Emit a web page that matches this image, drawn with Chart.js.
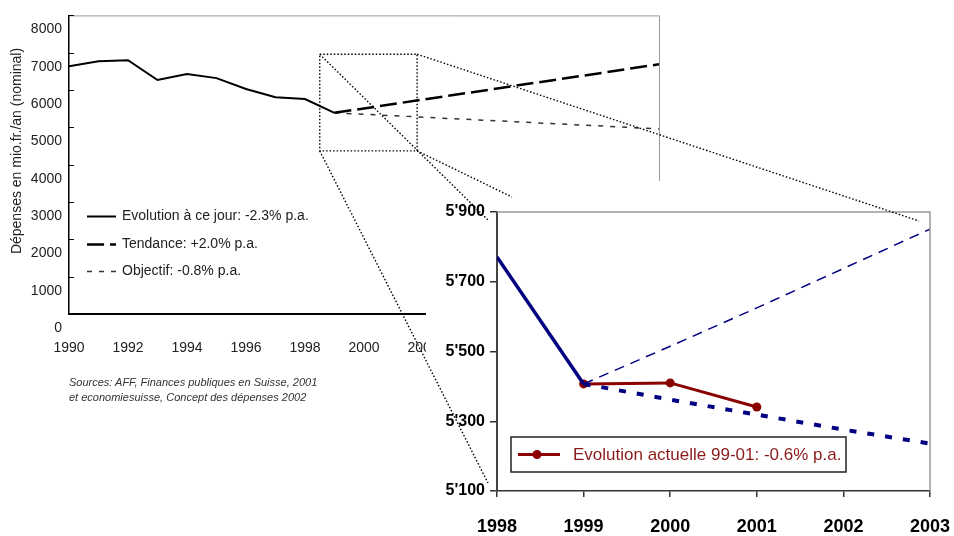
<!DOCTYPE html>
<html>
<head>
<meta charset="utf-8">
<script src="https://cdn.jsdelivr.net/npm/chart.js@4.4.1/dist/chart.umd.min.js"></script>
<style>
  html, body { margin: 0; padding: 0; background: #fff; }
  #wrap { position: relative; width: 954px; height: 536px; overflow: hidden; font-family: Arial, 'Liberation Sans', sans-serif; }
  #wrap canvas { position: absolute; left: 0; top: 0; }
  .src { position: absolute; left: 69px; top: 375px; font-size: 11px; font-style: italic; color: #333; line-height: 15px; }
</style>
</head>
<body>
<div id="wrap">
  <canvas id="mainChart" width="954" height="536"></canvas>
  <div class="src">Sources: AFF, Finances publiques en Suisse, 2001<br>et economiesuisse, Concept des dépenses 2002</div>
  <canvas id="zoomChart" width="954" height="536"></canvas>
</div>
<script>
// main chart data (mio. fr. per year)
const years = [1990, 1991, 1992, 1993, 1994, 1995, 1996, 1997, 1998, 1999];
const evolution = [6640, 6770, 6800, 6270, 6430, 6320, 6030, 5810, 5760, 5390];
const trendYears = [1999, 2010];
const trendValues = [5390, 6690];
const targetYears = [1999, 2010];
const targetValues = [5390, 4960];

// area of the main chart that is magnified
const zoomBoxYears = [1998.5, 2001.8];
const zoomBoxValues = [4370, 6960];

// inset chart data
const zoomYears = [1998, 1999, 2000, 2001, 2002, 2003];
const zoomActual = [5771, 5407];                     // 1998-1999
const zoomTrend = [5407, 5515, 5625, 5738, 5851];    // 1999-2003
const zoomTarget = [5407, 5362, 5319, 5276, 5236];   // 1999-2003
const zoomCurrent = [5407, 5410, 5341];              // 1999-2001

const mainLabels = ['Evolution à ce jour: -2.3% p.a.', 'Tendance: +2.0% p.a.', 'Objectif: -0.8% p.a.'];
const currentLabel = 'Evolution actuelle 99-01: -0.6% p.a.';

const FONT = "Arial, 'Liberation Sans', sans-serif";
Chart.defaults.font.family = FONT;

function pairs(xs, ys) {
    return ys.map((y, i) => ({ x: xs[i], y: y }));
}

// draws frame, inner ticks, axis title and the legend of the main chart
const mainDecor = {
    id: 'mainDecor',
    afterDraw(chart) {
        const ctx = chart.ctx;
        const ca = chart.chartArea;
        ctx.save();

        ctx.strokeStyle = '#999';
        ctx.lineWidth = 1;
        ctx.beginPath();
        ctx.moveTo(ca.left, ca.top + 0.5);
        ctx.lineTo(ca.right + 0.5, ca.top + 0.5);
        ctx.lineTo(ca.right + 0.5, ca.bottom);
        ctx.stroke();

        const ys = chart.scales.y;
        ctx.strokeStyle = '#000';
        ys.ticks.forEach(t => {
            const p = Math.round(ys.getPixelForValue(t.value)) + 0.5;
            ctx.beginPath();
            ctx.moveTo(ca.left, p);
            ctx.lineTo(ca.left + 5, p);
            ctx.stroke();
        });

        // y axis title
        ctx.save();
        ctx.translate(17, 151);
        ctx.rotate(-Math.PI / 2);
        ctx.fillStyle = '#222';
        ctx.font = '14px ' + FONT;
        ctx.textAlign = 'center';
        ctx.textBaseline = 'middle';
        ctx.fillText('Dépenses en mio.fr./an (nominal)', 0, 0);
        ctx.restore();

        // legend inside the plot
        chart.data.datasets.forEach((ds, i) => {
            const y = Math.round(ca.top + 201 + i * 27.5) + 0.5;
            ctx.strokeStyle = ds.borderColor;
            ctx.lineWidth = ds.borderWidth;
            ctx.setLineDash(ds.borderDash || []);
            ctx.beginPath();
            ctx.moveTo(ca.left + 18, y);
            ctx.lineTo(ca.left + 47, y);
            ctx.stroke();
            ctx.setLineDash([]);
            ctx.fillStyle = '#222';
            ctx.font = '14px ' + FONT;
            ctx.textBaseline = 'middle';
            ctx.textAlign = 'left';
            ctx.fillText(ds.label, ca.left + 53, y);
        });
        ctx.restore();
    }
};

const mainChart = new Chart(document.getElementById('mainChart'), {
    type: 'line',
    data: {
        datasets: [
            { label: mainLabels[0], data: pairs(years, evolution), borderColor: '#000', borderWidth: 2, pointRadius: 0 },
            { label: mainLabels[1], data: pairs(trendYears, trendValues), borderColor: '#000', borderWidth: 2.5, borderDash: [17, 6], pointRadius: 0 },
            { label: mainLabels[2], data: pairs(targetYears, targetValues), borderColor: '#333', borderWidth: 1.5, borderDash: [5, 7], pointRadius: 0 }
        ]
    },
    options: {
        responsive: false,
        animation: false,
        layout: { padding: { left: 0, top: 14, right: 295, bottom: 172 } },
        plugins: { legend: { display: false }, tooltip: { enabled: false } },
        scales: {
            x: {
                type: 'linear',
                min: 1990,
                max: 2010,
                afterFit: s => { s.height = 50; },
                grid: { display: false, drawTicks: false },
                border: { color: '#000', width: 2 },
                ticks: { stepSize: 2, autoSkip: false, maxRotation: 0, padding: 26, color: '#222', font: { size: 14 }, callback: v => String(v) }
            },
            y: {
                min: 0,
                max: 8000,
                afterFit: s => { s.width = 69; },
                grid: { display: false, drawTicks: false },
                border: { color: '#000', width: 1.5 },
                ticks: { stepSize: 1000, padding: 7, labelOffset: 14, color: '#222', font: { size: 14 }, callback: v => String(v) }
            }
        }
    },
    plugins: [mainDecor]
});

function dotted(ctx) {
    ctx.strokeStyle = '#000';
    ctx.lineWidth = 1.4;
    ctx.setLineDash([1.5, 2]);
}

// white background, frame, legend and the magnifier lines of the inset
const zoomDecor = {
    id: 'zoomDecor',
    beforeDraw(chart) {
        const ctx = chart.ctx;
        const ca = chart.chartArea;
        ctx.save();
        ctx.fillStyle = '#fff';
        ctx.fillRect(ca.left - 71, ca.top - 31, chart.width, chart.height);
        ctx.restore();
    },
    afterDraw(chart) {
        const ctx = chart.ctx;
        const ca = chart.chartArea;
        ctx.save();

        ctx.strokeStyle = '#999';
        ctx.lineWidth = 1.5;
        ctx.beginPath();
        ctx.moveTo(ca.left, ca.top);
        ctx.lineTo(ca.right, ca.top);
        ctx.lineTo(ca.right, ca.bottom);
        ctx.stroke();

        // legend box
        const ds = chart.data.datasets[3];
        const lx = ca.left + 14, ly = ca.top + 225, lw = 335, lh = 35;
        ctx.fillStyle = '#fff';
        ctx.fillRect(lx, ly, lw, lh);
        ctx.strokeStyle = '#222';
        ctx.lineWidth = 1.5;
        ctx.strokeRect(lx, ly, lw, lh);
        const cy = ly + lh / 2;
        ctx.strokeStyle = ds.borderColor;
        ctx.lineWidth = ds.borderWidth;
        ctx.beginPath();
        ctx.moveTo(lx + 7, cy);
        ctx.lineTo(lx + 49, cy);
        ctx.stroke();
        ctx.fillStyle = ds.borderColor;
        ctx.beginPath();
        ctx.arc(lx + 26, cy, ds.pointRadius, 0, Math.PI * 2);
        ctx.fill();
        ctx.fillStyle = '#8b1a1a';
        ctx.font = '17px ' + FONT;
        ctx.textBaseline = 'middle';
        ctx.fillText(ds.label, lx + 62, cy + 1);

        // magnifier box on the main chart and its connector lines
        const mx = mainChart.scales.x, my = mainChart.scales.y;
        const x0 = mx.getPixelForValue(zoomBoxYears[0]), x1 = mx.getPixelForValue(zoomBoxYears[1]);
        const y0 = my.getPixelForValue(zoomBoxValues[1]), y1 = my.getPixelForValue(zoomBoxValues[0]);
        dotted(ctx);
        ctx.strokeRect(x0, y0, x1 - x0, y1 - y0);
        const links = [
            [x0, y0, ca.left - 9, ca.top + 8],
            [x1, y0, ca.right - 11, ca.top + 9],
            [x0, y1, ca.left - 9, ca.bottom - 8],
            [x1, y1, ca.left + 15, ca.top - 15]
        ];
        links.forEach(l => {
            ctx.beginPath();
            ctx.moveTo(l[0], l[1]);
            ctx.lineTo(l[2], l[3]);
            ctx.stroke();
        });
        ctx.restore();
    }
};

new Chart(document.getElementById('zoomChart'), {
    type: 'line',
    data: {
        datasets: [
            { label: 'Evolution', data: pairs(zoomYears.slice(0, 2), zoomActual), borderColor: '#000080', borderWidth: 3.5, pointRadius: 0 },
            { label: 'Tendance', data: pairs(zoomYears.slice(1), zoomTrend), borderColor: '#000080', borderWidth: 1.5, borderDash: [10, 7], pointRadius: 0 },
            { label: 'Objectif', data: pairs(zoomYears.slice(1), zoomTarget), borderColor: '#000080', borderWidth: 4, borderDash: [7, 11], pointRadius: 0 },
            { label: currentLabel, data: pairs(zoomYears.slice(1, 4), zoomCurrent), borderColor: '#8b0000', backgroundColor: '#8b0000', borderWidth: 3, pointRadius: 4.5, pointBackgroundColor: '#8b0000', pointBorderWidth: 0 }
        ]
    },
    options: {
        responsive: false,
        animation: false,
        layout: { padding: { left: 437, top: 212, right: 24, bottom: 0 } },
        plugins: { legend: { display: false }, tooltip: { enabled: false } },
        scales: {
            x: {
                type: 'linear',
                min: 1998,
                max: 2003,
                afterFit: s => { s.height = 45; s.paddingLeft = 0; s.paddingRight = 0; },
                grid: { drawOnChartArea: false, tickLength: 6, color: '#333', lineWidth: 1.5 },
                border: { color: '#333', width: 1.5 },
                ticks: { stepSize: 1, autoSkip: false, maxRotation: 0, padding: 19, color: '#000', font: { size: 18, weight: 'bold' }, callback: v => String(v) }
            },
            y: {
                min: 5100,
                max: 5900,
                afterFit: s => { s.width = 60; },
                grid: { drawOnChartArea: false, tickLength: 7, color: '#333', lineWidth: 1.5 },
                border: { color: '#444', width: 2 },
                ticks: {
                    stepSize: 200, padding: 5, color: '#000', font: { size: 16, weight: 'bold' },
                    callback: v => Math.floor(v / 1000) + "'" + String(v % 1000).padStart(3, '0')
                }
            }
        }
    },
    plugins: [zoomDecor]
});
</script>
</body>
</html>
